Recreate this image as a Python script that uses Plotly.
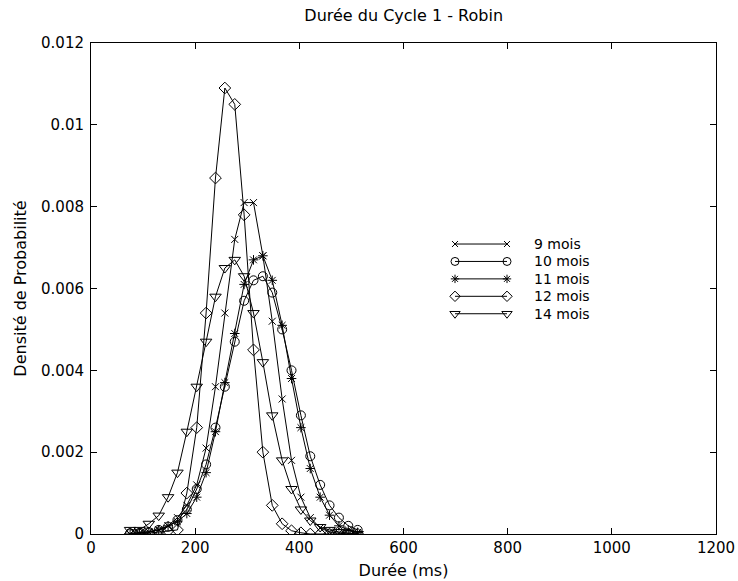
import plotly.graph_objects as go

# Bin centres (ms) shared by every age group
duree = [75, 93, 111, 130, 148, 166, 184, 203, 221, 239, 257, 276, 294,
         312, 330, 348, 367, 385, 403, 421, 440, 458, 476, 494, 512]

# Probability density per age group
mois_9 = [0.0, 0.00002, 0.00005, 0.0001, 0.0002, 0.0004, 0.0007, 0.0012,
          0.0021, 0.0036, 0.0054, 0.0072, 0.0081, 0.0081, 0.0068, 0.0052,
          0.0033, 0.0018, 0.0009, 0.0004, 0.00015, 0.00005, 0.00002, 0.0, 0.0]
mois_10 = [0.00002, 0.00003, 0.00005, 0.0001, 0.00018, 0.00034, 0.0006, 0.0011,
           0.0017, 0.0026, 0.0036, 0.0047, 0.0057, 0.0062, 0.0063, 0.0059,
           0.0050, 0.0040, 0.0029, 0.0019, 0.0012, 0.0007, 0.0004, 0.0002, 0.0001]
mois_11 = [0.0, 0.00002, 0.00005, 0.0001, 0.0002, 0.0003, 0.0005, 0.0009,
           0.0015, 0.0025, 0.0037, 0.0049, 0.0061, 0.0067, 0.0068, 0.0062,
           0.0051, 0.0038, 0.0026, 0.0016, 0.0009, 0.00046, 0.0002, 0.0001, 0.00004]
mois_12 = [0.0, 0.0, 0.00002, 0.00005, 0.00008, 0.0001, 0.0010, 0.0026,
           0.0054, 0.0087, 0.0109, 0.0105, 0.0078, 0.0045, 0.0020, 0.0007,
           0.00025, 0.00008, 0.00003, 0.0, 0.0, 0.0, 0.0, 0.0, 0.0]
mois_14 = [0.0001, 0.0001, 0.00025, 0.00045, 0.0009, 0.0015, 0.0025, 0.0036,
           0.0047, 0.0058, 0.0065, 0.0067, 0.0063, 0.0054, 0.0042, 0.0029,
           0.0018, 0.0011, 0.0006, 0.00033, 0.00017, 0.0001, 0.00005, 0.00002, 0.0]

labels = ["9 mois", "10 mois", "11 mois", "12 mois", "14 mois"]
values = [mois_9, mois_10, mois_11, mois_12, mois_14]
symbols = ["x-thin-open", "circle-open", "asterisk-open", "diamond-open", "triangle-down-open"]
sizes = [7, 9, 8, 9, 10]

x_ticks = [0, 200, 400, 600, 800, 1000, 1200]
y_ticks = [0, 0.002, 0.004, 0.006, 0.008, 0.01, 0.012]
y_ticktext = ["0", "0.002", "0.004", "0.006", "0.008", "0.01", "0.012"]

font = "DejaVu Sans, Liberation Sans, sans-serif"

# Legend layout, in fractions of the plotting area
LEG_X0, LEG_X1, LEG_TXT = 0.5824, 0.6656, 0.7056
LEG_Y0, LEG_DY = 0.5906, 0.0355

fig = go.Figure()
for name, vals, sym, size in zip(labels, values, symbols, sizes):
    marker = dict(symbol=sym, size=size, color="black",
                  line=dict(color="black", width=1))
    fig.add_trace(go.Scatter(
        x=duree, y=vals, name=name, mode="lines+markers",
        line=dict(color="black", width=1), marker=marker, showlegend=False,
    ))

# Legend samples: a short line with the marker at both ends
for i, (name, sym, size) in enumerate(zip(labels, symbols, sizes)):
    yy = LEG_Y0 - i * LEG_DY
    fig.add_trace(go.Scatter(
        x=[LEG_X0, LEG_X1], y=[yy, yy], xaxis="x2", yaxis="y2",
        mode="lines+markers", showlegend=False, hoverinfo="skip",
        cliponaxis=False,
        line=dict(color="black", width=1),
        marker=dict(symbol=sym, size=size - 1, color="black",
                    line=dict(color="black", width=1)),
    ))
    fig.add_annotation(
        x=LEG_TXT, y=yy, xref="paper", yref="paper", text=name,
        showarrow=False, xanchor="left", yanchor="middle",
        font=dict(family=font, size=14, color="black"),
    )

axis_style = dict(
    showline=True, linecolor="black", linewidth=1, mirror="ticks",
    ticks="inside", ticklen=6, tickcolor="black", showgrid=False,
    zeroline=False, automargin=False,
    tickfont=dict(family=font, size=15, color="black"),
)

fig.update_layout(
    width=738, height=581,
    margin=dict(l=91, r=22, t=43, b=47),
    paper_bgcolor="white", plot_bgcolor="white",
    font=dict(family=font, size=15, color="black"),
    title=dict(text="Durée du Cycle 1 - Robin", x=0.547, xanchor="center",
               y=0.973, yanchor="middle", font=dict(family=font, size=16)),
    xaxis=dict(range=[0, 1200], tickvals=x_ticks,
               title=dict(text="Durée (ms)", standoff=8,
                          font=dict(family=font, size=16)),
               **axis_style),
    yaxis=dict(range=[0, 0.012], tickvals=y_ticks, ticktext=y_ticktext,
               ticklabelstandoff=3,
               title=dict(text="Densité de Probabilité", standoff=10,
                          font=dict(family=font, size=16)),
               **axis_style),
    xaxis2=dict(range=[0, 1], overlaying="x", visible=False),
    yaxis2=dict(range=[0, 1], overlaying="y", visible=False),
    showlegend=False,
)

fig.write_html("out.html")
